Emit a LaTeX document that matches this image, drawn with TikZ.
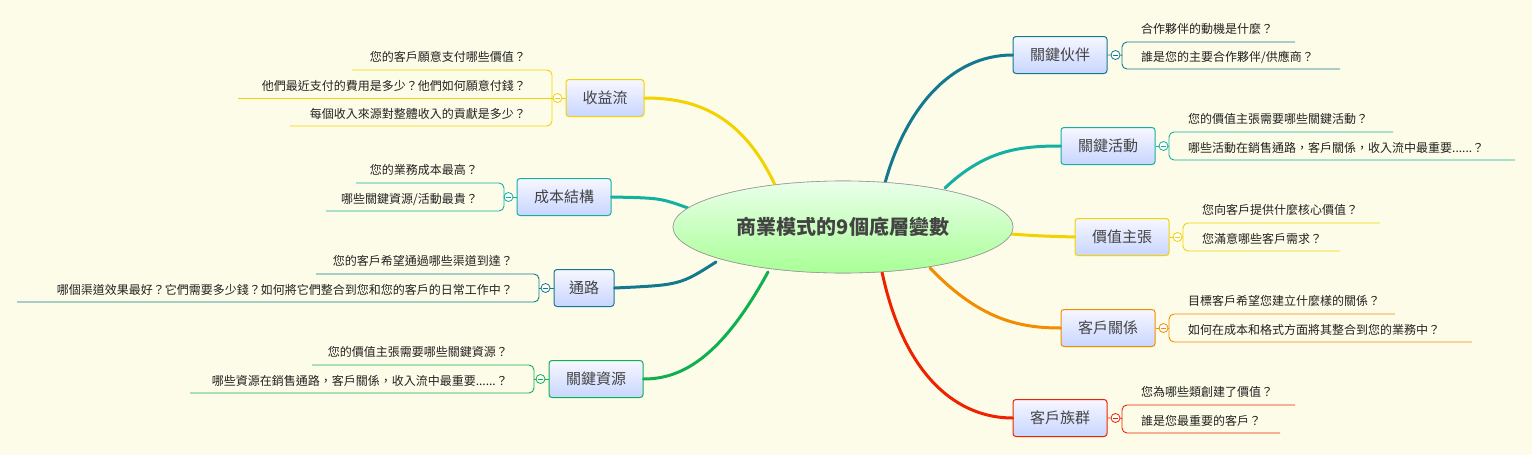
\documentclass[tikz,border=0pt]{standalone}
\usepackage{fontspec}
\setmainfont{Noto Sans CJK TC}
\usetikzlibrary{shapes.geometric}
\definecolor{bg}{HTML}{FDFCE8}
\definecolor{cA}{HTML}{12798F}
\definecolor{cB}{HTML}{14B0A0}
\definecolor{cC}{HTML}{F2D200}
\definecolor{cD}{HTML}{F28C00}
\definecolor{cE}{HTML}{EE2200}
\definecolor{cF}{HTML}{0FB050}
\definecolor{tx}{HTML}{222222}
\tikzset{
 topic/.style={draw=#1,line width=1pt,rounded corners=3pt,top color=white!60!blue!8,bottom color=blue!20!cyan!8!white!85!blue,minimum height=37pt,inner sep=2pt,font=\fontsize{15}{15}\selectfont,text=tx!85},
 q/.style={font=\fontsize{12}{12}\selectfont,text=tx,inner sep=1pt},
 tog/.style={circle,draw=#1,fill=white,minimum size=9pt,inner sep=0pt,line width=0.8pt},
 br/.style={draw=#1,line width=0.9pt,rounded corners=5pt},
 branch/.style={draw=#1,line width=3pt,line cap=round}
}
% right: color, node, bx, ytop, xtop, ybot, xbot, t1, t2
\newcommand\qright[9]{
 \node[tog=#1] (#2c) at ([xshift=8pt]#2.east) {};
 \draw[#1,line width=0.8pt] ([xshift=-2.5pt]#2c.center)--([xshift=2.5pt]#2c.center);
 \draw[#1,line width=0.9pt] (#2.east)--(#2c.west) (#2c.east)--(#3,{#6/2+#4/2});
 \draw[br=#1] (#5,#4)--(#3,#4)--(#3,#6)--(#7,#6);
 \node[q,anchor=west] (#2q1) at (#3+18,#4-13) {#8};
 \node[q,anchor=west] (#2q2) at (#3+18,#6-12) {#9};
}
\newcommand\qleft[9]{
 \node[tog=#1] (#2c) at ([xshift=-8pt]#2.west) {};
 \draw[#1,line width=0.8pt] ([xshift=-2.5pt]#2c.center)--([xshift=2.5pt]#2c.center);
 \draw[#1,line width=0.9pt] (#2.west)--(#2c.east) (#2c.west)--(#3,{#6/2+#4/2});
 \draw[br=#1] (#5,#4)--(#3,#4)--(#3,#6)--(#7,#6);
 \node[q,anchor=east] (#2q1) at (#3-25,#4-13) {#8};
 \node[q,anchor=east] (#2q2) at (#3-25,#6-12) {#9};
}
\begin{document}
\begin{tikzpicture}[x=1pt,y=-1pt]
\fill[bg] (0,0) rectangle (1532,455);
\useasboundingbox (0,0) rectangle (1532,455);
% topics
\node[topic=cA,minimum width=94pt] (kp) at (1060,55) {關鍵伙伴};
\node[topic=cB,minimum width=94pt] (ka) at (1108,146) {關鍵活動};
\node[topic=cC,minimum width=94pt] (vp) at (1122,237) {價值主張};
\node[topic=cD,minimum width=94pt] (cr) at (1108,328) {客戶關係};
\node[topic=cE,minimum width=94pt] (cs) at (1060,418) {客戶族群};
\node[topic=cC,minimum width=78pt] (rs) at (605,98) {收益流};
\node[topic=cB,minimum width=94pt] (cost) at (564,197) {成本結構};
\node[topic=cA,minimum width=60pt] (ch) at (584,288) {通路};
\node[topic=cF,minimum width=94pt] (kr) at (596,379) {關鍵資源};
% center
\node[ellipse,draw=gray!80,line width=0.6pt,top color=green!8!white,bottom color=green!35!white!90!lime,minimum width=340pt,minimum height=92pt,font=\fontsize{20}{20}\selectfont\bfseries,text=tx!85] (c) at (843,227) {商業模式的9個底層變數};
% branches (behind)
\begin{scope}[on background layer/.try]
\end{scope}
\draw[branch=cA] (885,183) .. controls (905,110) and (950,55) .. (kp.west);
\draw[branch=cB] (945,188) .. controls (985,150) and (1020,146) .. (ka.west);
\draw[branch=cC] (1010,234) .. controls (1040,236) .. (vp.west);
\draw[branch=cD] (930,268) .. controls (980,320) and (1020,328) .. (cr.west);
\draw[branch=cE] (882,272) .. controls (905,380) and (960,418) .. (cs.west);
\draw[branch=cC] (775,185) .. controls (740,110) and (690,98) .. (rs.east);
\draw[branch=cB] (688,208) .. controls (660,198) .. (cost.east);
\draw[branch=cA] (716,262) .. controls (680,285) .. (ch.east);
\draw[branch=cF] (768,272) .. controls (720,360) and (680,379) .. (kr.east);
\node[ellipse,draw=gray!80,line width=0.6pt,top color=green!8!white,bottom color=green!35!white!90!lime,minimum width=340pt,minimum height=92pt,font=\fontsize{20}{20}\selectfont\bfseries,text=tx!85] at (843,227) {商業模式的9個底層變數};
% questions right
\qright{cA}{kp}{1122}{42}{1295}{69}{1340}{合作夥伴的動機是什麼？}{誰是您的主要合作夥伴/供應商？}
\qright{cB}{ka}{1169}{132}{1393}{160}{1515}{您的價值主張需要哪些關鍵活動？}{哪些活動在銷售通路，客戶關係，收入流中最重要......？}
\qright{cC}{vp}{1183}{223}{1380}{251}{1340}{您向客戶提供什麼核心價值？}{您滿意哪些客戶需求？}
\qright{cD}{cr}{1169}{314}{1395}{342}{1472}{目標客戶希望您建立什麼樣的關係？}{如何在成本和格式方面將其整合到您的業務中？}
\qright{cE}{cs}{1122}{405}{1295}{433}{1280}{您為哪些類創建了價值？}{誰是您最重要的客戶？}
% questions left
\qleft{cC}{rs}{552}{70}{352}{126}{290}{您的客戶願意支付哪些價值？}{每個收入來源對整體收入的貢獻是多少？}
\draw[cC,line width=0.9pt] (552,98)--(238,98);
\node[q,anchor=east] (rsq3) at (527,86) {他們最近支付的費用是多少？他們如何願意付錢？};
\qleft{cB}{cost}{504}{183}{356}{211}{326}{您的業務成本最高？}{哪些關鍵資源/活動最貴？}
\qleft{cA}{ch}{539}{274}{316}{302}{17}{您的客戶希望通過哪些渠道到達？}{哪個渠道效果最好？它們需要多少錢？如何將它們整合到您和您的客戶的日常工作中？}
\qleft{cF}{kr}{534}{365}{312}{393}{190}{您的價值主張需要哪些關鍵資源？}{哪些資源在銷售通路，客戶關係，收入流中最重要......？}
\end{tikzpicture}
\end{document}
